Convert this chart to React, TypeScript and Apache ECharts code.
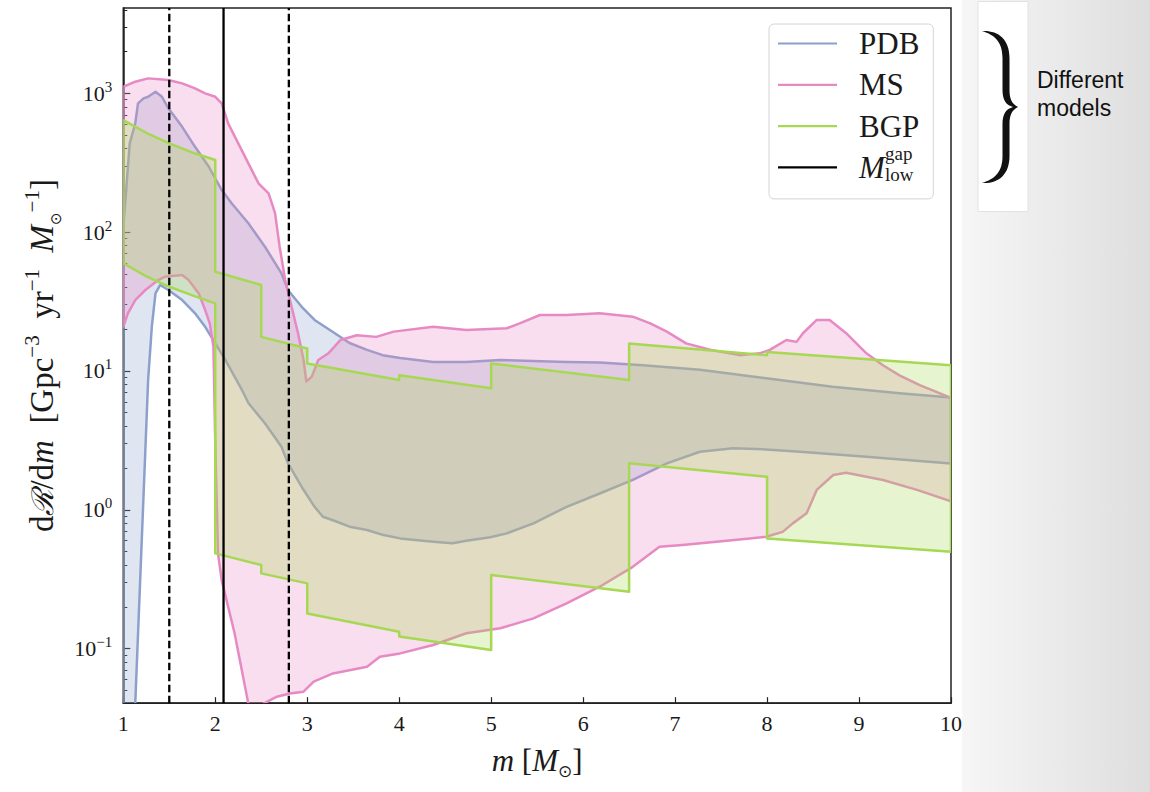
import React, { useEffect, useRef } from "react";
import * as echarts from "echarts";

// ---- data: dR/dm bands (upper / lower) vs. mass m [M_sun] ----
const pdbUpper: [number, number][] = [
  [1.0, 110], [1.02, 161], [1.07, 436], [1.13, 608], [1.16, 847], [1.22, 920], [1.27, 945],
  [1.35, 1026], [1.42, 945], [1.49, 780], [1.64, 574], [1.78, 412], [1.93, 296], [2.07, 201],
  [2.18, 161], [2.36, 116], [2.54, 78.5], [2.72, 50.5], [2.79, 38.3], [2.94, 29], [3.08, 23.3],
  [3.3, 18.7], [3.46, 15.9], [3.65, 14.2], [3.82, 13.0], [4.01, 12.4], [4.37, 11.6], [4.73, 11.6],
  [5.1, 12.0], [5.45, 11.8], [5.82, 11.6], [6.18, 11.5], [6.65, 11.0], [7.27, 10.2], [7.99, 8.85],
  [8.71, 7.7], [9.44, 6.9], [10.0, 6.45],
];
const pdbLower: [number, number][] = [
  [1.0, 0.0004], [1.13, 0.04], [1.27, 8.6], [1.31, 20.8], [1.35, 36.2], [1.4, 41.6], [1.49, 38.3],
  [1.64, 32.4], [1.78, 26], [1.89, 20.8], [2.0, 15.8], [2.11, 12], [2.21, 9.1], [2.29, 7.3],
  [2.36, 5.87], [2.54, 4.2], [2.72, 2.84], [2.79, 2.17], [2.94, 1.46], [3.08, 1.05], [3.17, 0.89],
  [3.28, 0.84], [3.46, 0.755], [3.65, 0.714], [3.83, 0.657], [4.01, 0.622], [4.37, 0.588],
  [4.58, 0.573], [4.73, 0.598], [4.99, 0.633], [5.17, 0.676], [5.46, 0.798], [5.82, 1.05],
  [6.18, 1.31], [6.54, 1.64], [6.91, 2.16], [7.27, 2.62], [7.63, 2.77], [7.99, 2.72], [8.36, 2.62],
  [9.08, 2.41], [10.0, 2.15],
];
const msUpper: [number, number][] = [
  [1.0, 1116], [1.13, 1213], [1.27, 1282], [1.49, 1247], [1.64, 1180], [1.78, 1086], [1.89, 1000],
  [2.0, 945], [2.07, 848], [2.14, 608], [2.25, 436], [2.36, 313], [2.47, 225], [2.58, 190],
  [2.65, 137], [2.7, 78.5], [2.76, 45.2], [2.83, 29], [2.9, 18.7], [2.96, 12], [2.99, 8.4],
  [3.05, 9.1], [3.12, 12], [3.23, 13.4], [3.36, 16.7], [3.54, 18.1], [3.75, 17.6], [3.94, 19.2],
  [4.37, 20.8], [4.73, 19.7], [5.17, 20.3], [5.31, 22], [5.53, 25.3], [5.82, 25.3], [6.18, 26],
  [6.54, 24.6], [6.73, 22], [6.91, 19.2], [7.12, 15.8], [7.38, 14.2], [7.7, 13], [7.92, 13.4],
  [8.03, 14.2], [8.21, 16.7], [8.32, 16.2], [8.39, 18.7], [8.54, 23.3], [8.68, 23.3], [8.86, 18.7],
  [9.08, 13.4], [9.26, 11], [9.44, 9.3], [9.66, 7.9], [10.0, 6.4],
];
const msLower: [number, number][] = [
  [1.0, 20.8], [1.05, 26], [1.13, 32.4], [1.24, 38.3], [1.38, 45.2], [1.45, 47.7], [1.64, 49.1],
  [1.71, 45.2], [1.82, 36.2], [1.89, 27.5], [1.94, 22], [1.98, 15], [2.0, 3], [2.03, 0.48],
  [2.07, 0.31], [2.21, 0.129], [2.36, 0.04], [2.44, 0.03], [2.52, 0.04], [2.67, 0.045],
  [2.81, 0.0475], [2.96, 0.0489], [3.07, 0.0577], [3.28, 0.0662], [3.65, 0.074], [3.79, 0.0873],
  [4.01, 0.0923], [4.37, 0.106], [4.73, 0.129], [5.1, 0.14], [5.46, 0.165], [5.82, 0.212],
  [6.18, 0.279], [6.54, 0.388], [6.83, 0.541], [7.08, 0.557], [7.45, 0.588], [7.81, 0.622],
  [7.99, 0.639], [8.17, 0.693], [8.28, 0.798], [8.43, 0.942], [8.54, 1.39], [8.72, 1.78],
  [8.86, 1.85], [9.26, 1.64], [9.63, 1.39], [10.0, 1.15],
];
const bgpUpper: [number, number][] = [
  [1.0, 641], [1.25, 520], [1.5, 436], [1.75, 375], [2.0, 331], [2.0, 51.9], [2.5, 41.6],
  [2.5, 17.6], [3.0, 14.5], [3.0, 11.3], [4.0, 8.6], [4.0, 9.3], [5.0, 7.5], [5.0, 11.3],
  [6.5, 8.6], [6.5, 15.8], [8.0, 13.0], [8.0, 13.7], [10.0, 11.0],
];
const bgpLower: [number, number][] = [
  [1.0, 59.6], [1.25, 48], [1.5, 40.4], [1.75, 35], [2.0, 30.7], [2.0, 0.485], [2.5, 0.4],
  [2.5, 0.348], [3.0, 0.295], [3.0, 0.179], [4.0, 0.132], [4.0, 0.122], [5.0, 0.0975],
  [5.0, 0.339], [6.5, 0.257], [6.5, 2.16], [8.0, 1.73], [8.0, 0.622], [10.0, 0.498],
];

// lower mass-gap edge: median and interval
const gapMedian = 2.09;
const gapInterval = [1.5, 2.8];

// axes
const xTicks = [1, 2, 3, 4, 5, 6, 7, 8, 9, 10];
const yMajorExponents = [-1, 0, 1, 2, 3];
const yRange = [0.0404, 4120];

const legendNames = ["PDB", "MS", "BGP", "Mgap"];
const COLORS: Record<string, string> = {
  PDB: "#8da0cb",
  MS: "#e78ac3",
  BGP: "#a6d854",
  Mgap: "#000000",
};

const SERIF = "'Liberation Serif', 'DejaVu Serif', serif";
const SANS = "'Liberation Sans', Arial, sans-serif";
const INK = "#1a1a1a";

const BRACE_D =
  "M 982 31 C 997 30 1009.5 38 1009.5 58 L 1009.5 90 C 1009.5 99 1012 104 1018 107 " +
  "C 1012 110 1009.5 115 1009.5 124 L 1009.5 156 C 1009.5 176 997 184 982 183 " +
  "C 995 179 1002.5 172 1002.5 156 L 1002.5 124 C 1002.5 114 1006 109 1013 107 " +
  "C 1006 105 1002.5 100 1002.5 90 L 1002.5 58 C 1002.5 42 995 35 982 31 Z";
echarts.graphic.registerShape("brace", echarts.graphic.extendPath(BRACE_D, {}));

const lg = (v: number) => Math.log10(v);

function rgba(hex: string, a: number) {
  const n = parseInt(hex.slice(1), 16);
  return `rgba(${(n >> 16) & 255},${(n >> 8) & 255},${n & 255},${a})`;
}

function band(name: string, upper: [number, number][], lower: [number, number][], z: number) {
  const pts = [
    ...upper.map((p) => [p[0], lg(p[1])]),
    ...lower.slice().reverse().map((p) => [p[0], lg(p[1])]),
  ];
  const color = COLORS[name];
  return {
    type: "custom",
    name,
    z,
    clip: true,
    silent: true,
    coordinateSystem: "cartesian2d",
    itemStyle: { color },
    data: [[1, 0]],
    encode: { x: 0, y: 1 },
    renderItem: (params: any, api: any) => {
      const cs = params.coordSys;
      return {
        type: "polygon",
        shape: { points: pts.map((p) => api.coord(p)) },
        style: { fill: rgba(color, 0.28), stroke: color, lineWidth: 2.5, lineJoin: "round" },
        clipPath: { type: "rect", shape: { x: cs.x, y: cs.y, width: cs.width, height: cs.height } },
      };
    },
  };
}

function vline(name: string, x: number, dashed: boolean) {
  return {
    type: "line",
    name,
    z: 10,
    symbol: "none",
    silent: true,
    lineStyle: { color: "#000", width: 2.3, type: dashed ? [7.5, 3.5] : "solid" },
    itemStyle: { color: "#000" },
    data: [
      [x, lg(yRange[0])],
      [x, lg(yRange[1])],
    ],
  };
}

const supMinus = (v: number) => (v < 0 ? "\u2212" + Math.abs(v) : String(v));

export default function App() {
  const ref = useRef<HTMLDivElement>(null);

  useEffect(() => {
    if (!ref.current) return;
    const chart = echarts.init(ref.current, undefined, { renderer: "svg" });
    const yMin = lg(yRange[0]);
    const yMax = lg(yRange[1]);
    const minor: number[] = [];
    for (let e = -2; e <= 3; e++) {
      for (let k = 2; k <= 9; k++) {
        const v = lg(k * Math.pow(10, e));
        if (v > yMin && v < yMax) minor.push(v);
      }
    }

    chart.setOption({
      animation: false,
      backgroundColor: "#ffffff",
      grid: {
        left: 123.3,
        right: 199,
        top: 8,
        bottom: 88.8,
        show: true,
        borderColor: "#222",
        borderWidth: 1.5,
        backgroundColor: "#fff",
      },
      xAxis: {
        type: "value",
        min: xTicks[0],
        max: xTicks[xTicks.length - 1],
        interval: 1,
        axisLine: { show: true, onZero: false, lineStyle: { color: "#222", width: 1.5 } },
        axisTick: { show: true, inside: true, length: 6, lineStyle: { color: "#222", width: 1.2 } },
        axisLabel: { margin: 9, fontFamily: SERIF, fontSize: 22, color: INK },
        splitLine: { show: false },
        name: "{i|m}{t| [}{i|M}{u|\u2299}{t|]}",
        nameLocation: "middle",
        nameGap: 38,
        nameTextStyle: {
          rich: {
            t: { fontFamily: SERIF, fontSize: 31, lineHeight: 38, color: INK },
            i: { fontFamily: SERIF, fontSize: 31, lineHeight: 38, fontStyle: "italic", color: INK },
            u: { fontFamily: "'DejaVu Sans', sans-serif", fontSize: 17, lineHeight: 18, verticalAlign: "bottom", color: INK },
          },
        },
      },
      yAxis: [
        {
          type: "value",
          min: yMin,
          max: yMax,
          position: "left",
          axisLine: { show: true, onZero: false, lineStyle: { color: "#222", width: 1.5 } },
          axisTick: {
            show: true,
            inside: true,
            length: 7,
            customValues: yMajorExponents,
            lineStyle: { color: "#222", width: 1.2 },
          },
          axisLabel: {
            customValues: yMajorExponents,
            margin: 11,
            formatter: (v: number) => `{b|10}{e|${supMinus(Math.round(v))}}`,
            rich: {
              b: { fontFamily: SERIF, fontSize: 22, lineHeight: 28, color: INK },
              e: { fontFamily: SERIF, fontSize: 15, lineHeight: 13, verticalAlign: "top", color: INK },
            },
          },
          splitLine: { show: false },
          name:
            "{t|d}{r|\u211B}{t|/d}{i|m}{t|  [Gpc}{s|\u22123}{t|  yr}{s|\u22121}{t|  }{i|M}{u|\u2299}{s|\u22121}{t|]}",
          nameLocation: "middle",
          nameRotate: 90,
          nameGap: 57,
          nameTextStyle: {
            rich: {
              t: { fontFamily: SERIF, fontSize: 33, lineHeight: 42, color: INK },
              r: { fontFamily: "'DejaVu Serif', serif", fontSize: 30, lineHeight: 42, fontStyle: "italic", color: INK },
              i: { fontFamily: SERIF, fontSize: 33, lineHeight: 42, fontStyle: "italic", color: INK },
              s: { fontFamily: SERIF, fontSize: 21, lineHeight: 20, verticalAlign: "top", color: INK },
              u: { fontFamily: "'DejaVu Sans', sans-serif", fontSize: 15, lineHeight: 17, verticalAlign: "bottom", color: INK },
            },
          },
        },
        {
          type: "value",
          min: yMin,
          max: yMax,
          position: "left",
          axisLine: { show: false, onZero: false },
          axisTick: { show: true, inside: true, length: 4, customValues: minor, lineStyle: { color: "#222", width: 1 } },
          axisLabel: { show: false },
          splitLine: { show: false },
        },
      ],
      legend: {
        data: legendNames.map((name) => ({ name })),
        orient: "vertical",
        left: 769,
        top: 24,
        itemWidth: 59,
        itemHeight: 2.2,
        itemGap: 10.3,
        icon: "rect",
        selectedMode: false,
        padding: [4, 14, 16, 9],
        backgroundColor: "#fff",
        borderColor: "#d4d4d4",
        borderWidth: 1,
        borderRadius: 5,
        formatter: (name: string) =>
          name === "Mgap" ? "{g|}{m|M}{w|}" : `{g|}{n|${name}}`,
        textStyle: {
          rich: {
            g: { width: 17 },
            n: { fontFamily: SERIF, fontSize: 31, lineHeight: 30, color: INK },
            m: { fontFamily: SERIF, fontSize: 31, lineHeight: 30, fontStyle: "italic", color: INK },
            w: { width: 36 },
          },
        },
      },
      graphic: [
        {
          type: "rect",
          x: 962,
          y: 0,
          silent: true,
          shape: { width: 188, height: 792 },
          style: {
            fill: {
              type: "linear",
              x: 0,
              y: 0,
              x2: 1,
              y2: 0,
              colorStops: [
                { offset: 0, color: "#f6f6f6" },
                { offset: 1, color: "#dedede" },
              ],
            },
          },
        },
        {
          type: "rect",
          x: 978,
          y: 1.5,
          silent: true,
          shape: { width: 50, height: 210 },
          style: { fill: "#ffffff", stroke: "#e2e2e2", lineWidth: 1 },
        },
        { type: "brace", x: 0, y: 0, silent: true, style: { fill: "#111" } },
        {
          type: "text",
          x: 1037,
          y: 66,
          silent: true,
          style: {
            text: "Different\nmodels",
            fontFamily: SANS,
            fontSize: 23,
            lineHeight: 28,
            fill: "#111",
            verticalAlign: "top",
          },
        },
        {
          type: "text",
          x: 885,
          y: 153,
          z: 50,
          silent: true,
          style: { text: "gap", fontFamily: SERIF, fontSize: 19, fill: INK, verticalAlign: "middle" },
        },
        {
          type: "text",
          x: 885,
          y: 174.5,
          z: 50,
          silent: true,
          style: { text: "low", fontFamily: SERIF, fontSize: 19, fill: INK, verticalAlign: "middle" },
        },
      ],
      series: [
        band("PDB", pdbUpper, pdbLower, 2),
        band("MS", msUpper, msLower, 3),
        band("BGP", bgpUpper, bgpLower, 4),
        vline("Mgap", gapMedian, false),
        vline("Mgap interval low", gapInterval[0], true),
        vline("Mgap interval high", gapInterval[1], true),
      ],
    });
    return () => chart.dispose();
  }, []);

  return (
    <div
      ref={ref}
      style={{ position: "absolute", left: 0, top: 0, width: 1150, height: 792 }}
    />
  );
}
